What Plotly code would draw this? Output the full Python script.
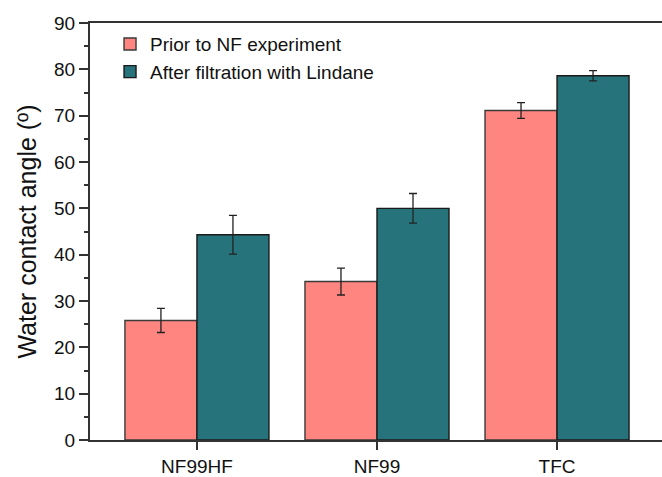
import plotly.graph_objects as go

categories = ["NF99HF", "NF99", "TFC"]
prior_vals = [25.8, 34.2, 71.1]
prior_err = [2.6, 2.9, 1.7]
after_vals = [44.3, 50.0, 78.6]
after_err = [4.2, 3.2, 1.1]
series_names = ["Prior to NF experiment", "After filtration with Lindane"]
y_ticks = [0, 10, 20, 30, 40, 50, 60, 70, 80, 90]

FONT = "Liberation Sans, Arial, sans-serif"
AX = "#333333"

fig = go.Figure()
fig.add_trace(go.Bar(
    x=categories, y=prior_vals, name=series_names[0],
    marker=dict(color="#FF8680", line=dict(color="#3a3a3a", width=1.4)),
    error_y=dict(type="data", array=prior_err, color="#222222", thickness=1.3, width=4),
))
fig.add_trace(go.Bar(
    x=categories, y=after_vals, name=series_names[1],
    marker=dict(color="#27737B", line=dict(color="#1a1a1a", width=1.4)),
    error_y=dict(type="data", array=after_err, color="#222222", thickness=1.3, width=4),
))

fig.update_layout(
    width=662, height=477,
    margin=dict(l=90, r=0, t=23, b=31),
    paper_bgcolor="white", plot_bgcolor="white",
    barmode="group", bargap=0.2, bargroupgap=0,
    font=dict(family=FONT, size=19, color="#111111"),
    showlegend=True,
    legend=dict(
        x=0.035, y=0.995, xanchor="left", yanchor="top",
        bgcolor="rgba(0,0,0,0)", font=dict(size=19, family=FONT),
        tracegroupgap=0,
    ),
    xaxis=dict(
        range=[-0.594, 2.583], showline=True, linecolor=AX, linewidth=2,
        mirror=True, ticks="outside", ticklen=8, tickwidth=1.5, tickcolor=AX,
        showgrid=False, zeroline=False, tickfont=dict(size=19, family=FONT),
    ),
    yaxis=dict(
        range=[0, 90], tickvals=y_ticks, showline=True, linecolor=AX, linewidth=2,
        mirror=False, ticks="outside", ticklen=9, tickwidth=1.5, tickcolor=AX,
        minor=dict(dtick=5, ticks="outside", ticklen=4, tickwidth=1.5, tickcolor=AX),
        showgrid=False, zeroline=False, tickfont=dict(size=19, family=FONT),
        title=dict(text="Water contact angle (º)", font=dict(size=25, family=FONT), standoff=10),
    ),
)

fig.write_html("out.html")
